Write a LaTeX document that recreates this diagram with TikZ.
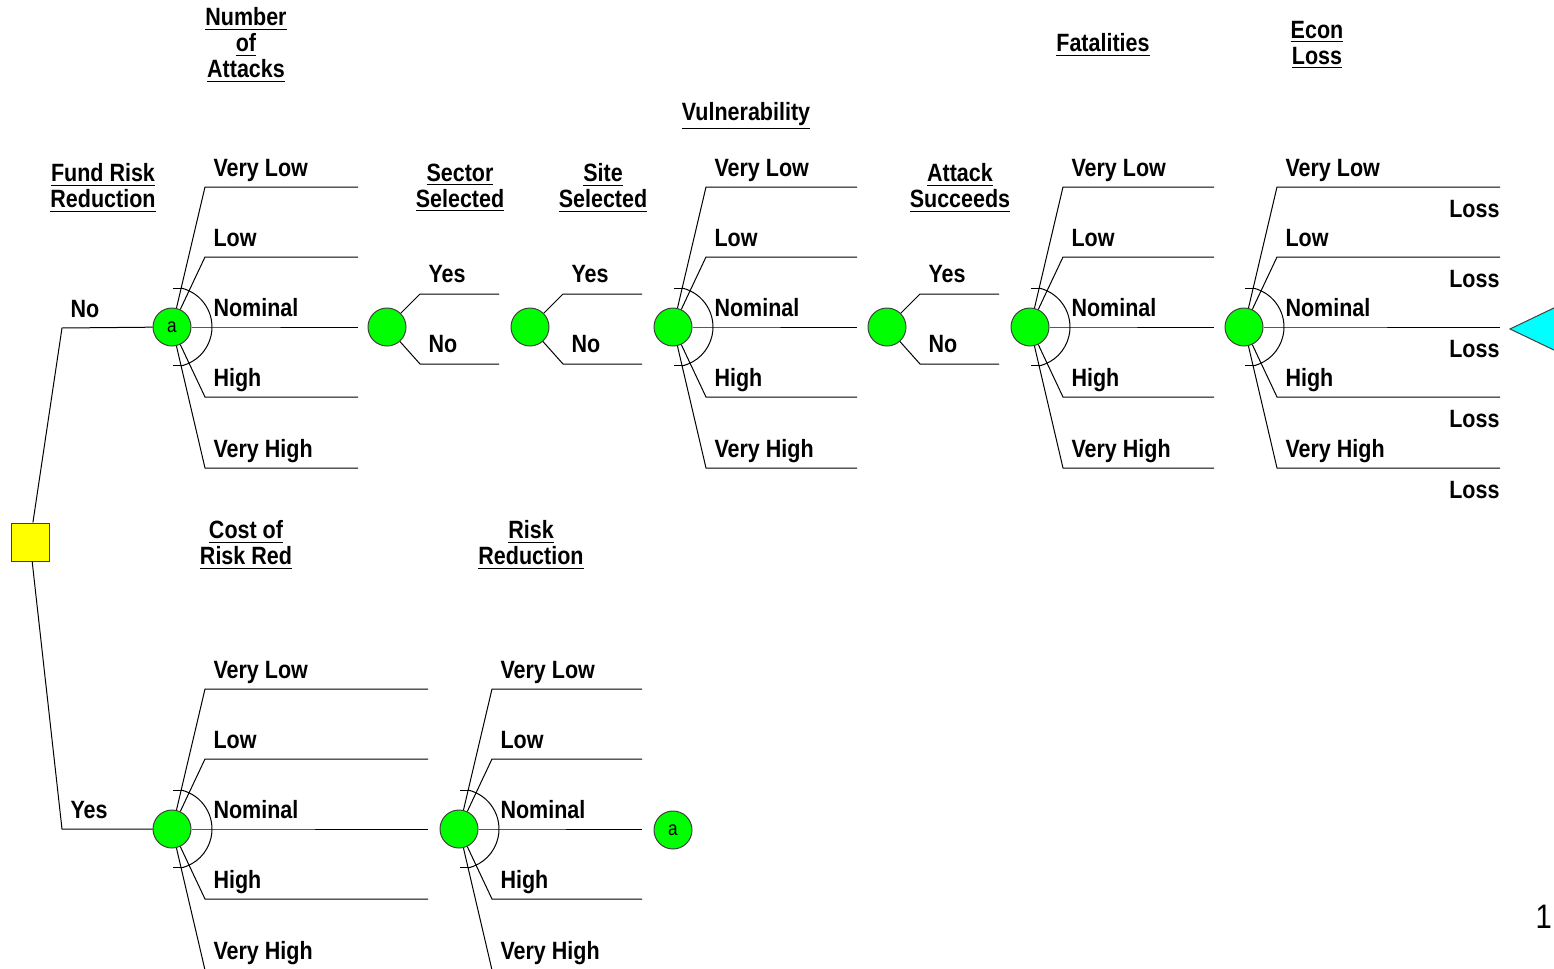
\documentclass[tikz,border=0pt]{standalone}
\usepackage{fontspec}
\setmainfont{Liberation Sans}[FakeStretch=0.86]
\usepackage{tikz}
\definecolor{termcyan}{RGB}{0,255,255}
\definecolor{chancegreen}{RGB}{0,255,0}
\definecolor{decyellow}{RGB}{255,255,0}
\tikzstyle{chance} = [circle, draw=black!75, fill=chancegreen, minimum size=19pt, inner sep=0pt, font=\fontsize{10}{10}\selectfont]
\tikzstyle{decision} = [rectangle, draw=black!75, fill=decyellow, minimum size=19pt, inner sep=0pt]
\tikzstyle{lbl} = [inner sep=0pt, font=\bfseries\fontsize{12.5}{13}\selectfont]
\tikzstyle{head} = [lbl, align=center]

% five outcome fan: node, length of the branches
\newcommand{\fivefan}[2]{%
  \foreach \dy/\txt [count=\k] in {-140/Very Low,-70/Low,0/Nominal,70/High,141/Very High}{
    \coordinate (#1-b\k) at ([shift={(33,\dy)}]#1.center);
    \coordinate (#1-e\k) at ([shift={(#2,\dy)}]#1.center);
    \draw (#1) -- (#1-b\k) -- (#1-e\k);
    \node[lbl, anchor=base west] (#1-l\k) at ([shift={(8,-11)}]#1-b\k) {\txt};
  }
  \draw ([shift={(77:20pt)}]#1.center) arc[start angle=77, end angle=-77, radius=20pt];
  \draw ([shift={(77:20pt)}]#1.center) ++(-4pt,0) -- ++(5.5pt,0);
  \draw ([shift={(-77:20pt)}]#1.center) ++(-4pt,0) -- ++(5.5pt,0);
}
% yes / no fan
\newcommand{\twofan}[1]{%
  \foreach \dy/\txt [count=\k] in {-33/Yes,37/No}{
    \coordinate (#1-b\k) at ([shift={(33,\dy)}]#1.center);
    \coordinate (#1-e\k) at ([shift={(112,\dy)}]#1.center);
    \draw (#1) -- (#1-b\k) -- (#1-e\k);
    \node[lbl, anchor=base west] (#1-l\k) at ([shift={(8,-12)}]#1-b\k) {\txt};
  }
}

\begin{document}
\begin{tikzpicture}[x=0.5pt, y=-0.5pt, line width=0.5pt]
	  \useasboundingbox (0,0) rectangle (1554,969);

	  % headers
	  \node[head] (hfund) at (103,188) {\underline{Fund Risk}\\\underline{Reduction}};
	  \node[head] (hnum) at (246,45) {\underline{Number}\\\underline{of}\\\underline{Attacks}};
	  \node[head] (hsec) at (460,188) {\underline{Sector}\\\underline{Selected}};
	  \node[head] (hsite) at (603,188) {\underline{Site}\\\underline{Selected}};
	  \node[head] (hvul) at (746,116) {\underline{Vulnerability}};
	  \node[head] (hatt) at (960,188) {\underline{Attack}\\\underline{Succeeds}};
	  \node[head] (hfat) at (1103,45) {\underline{Fatalities}};
	  \node[head] (hecon) at (1317,45) {\underline{Econ}\\\underline{Loss}};
	  \node[head] (hcost) at (246,545) {\underline{Cost of}\\\underline{Risk Red}};
	  \node[head] (hrr) at (531,545) {\underline{Risk}\\\underline{Reduction}};

	  % nodes
	  \node (dec) at (30,542) [decision] {};
	  \node (na) at (172,327) [chance] {a};
	  \node (nsec) at (387,327) [chance] {};
	  \node (nsite) at (530,327) [chance] {};
	  \node (nvul) at (673,327) [chance] {};
	  \node (natt) at (887,327) [chance] {};
	  \node (nfat) at (1030,327) [chance] {};
	  \node (necon) at (1244,327) [chance] {};
	  \node (ncost) at (172,829) [chance] {};
	  \node (nrr) at (459,829) [chance] {};
	  \node (na2) at (673,830) [chance] {a};

	  % decision branches
	  \coordinate (cno) at (62,328);
	  \coordinate (cyes) at (62,829);
	  \draw (dec) -- (cno) -- (na);
	  \draw (dec) -- (cyes) -- (ncost);
	  \node[lbl, anchor=base west] (lno) at ([shift={(8,-11)}]cno) {No};
	  \node[lbl, anchor=base west] (lyes) at ([shift={(8,-11)}]cyes) {Yes};

	  % fans
	  \fivefan{na}{186}
	  \twofan{nsec}
	  \twofan{nsite}
	  \fivefan{nvul}{184}
	  \twofan{natt}
	  \fivefan{nfat}{184}
	  \fivefan{necon}{256}
	  \fivefan{ncost}{256}
	  \fivefan{nrr}{183}

	  % end of tree
	  \foreach \k in {1,...,5}
	    \node[lbl, anchor=north east] (loss\k) at ([shift={(0,13)}]necon-e\k) {Loss};
	  \coordinate (tip) at (1510,329);
	  \filldraw[fill=termcyan, draw=black!75] (tip) -- (1558,306) -- (1558,352) -- cycle;

	  \node[anchor=base west, inner sep=0pt, font=\fontsize{17}{17}\selectfont] (pg) at (1535,928) {1};
\end{tikzpicture}
\end{document}
